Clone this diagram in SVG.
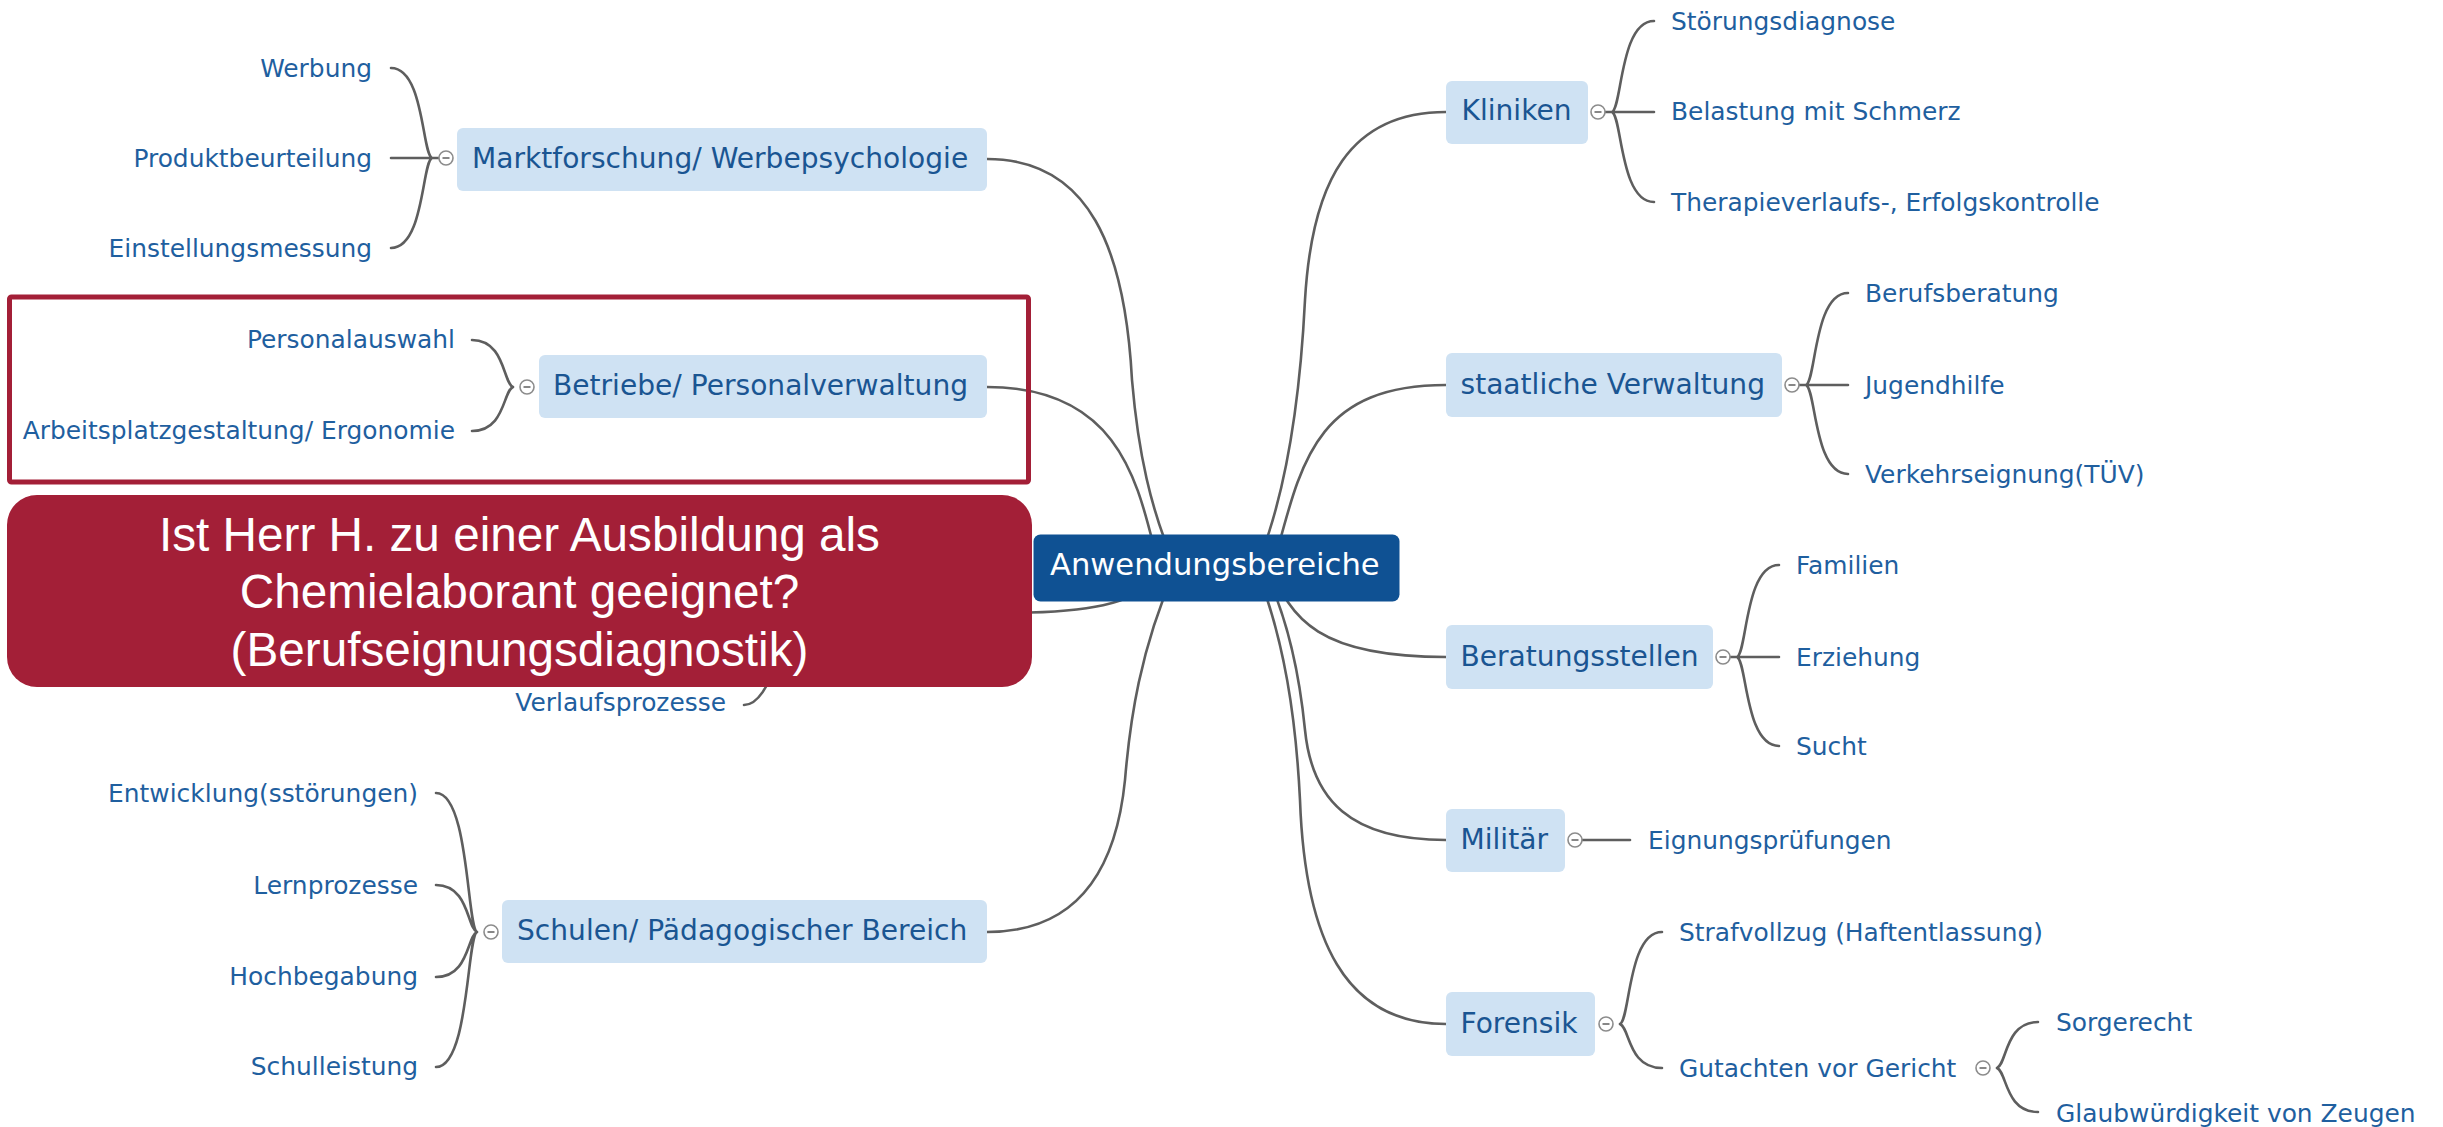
<svg xmlns="http://www.w3.org/2000/svg" width="2443" height="1127" viewBox="0 0 2443 1127">
<style>
.c{fill:none;stroke:#5e5e5e;stroke-width:2.6;stroke-linecap:round}
.box{fill:#cfe2f3}
.bt{font-family:"DejaVu Sans",Verdana,sans-serif;font-size:28.1px;fill:#1a5592}
.ct{font-family:"DejaVu Sans",Verdana,sans-serif;font-size:24.9px;fill:#1f5f9f}
.l{text-anchor:end}
.tog circle{fill:#fff;stroke:#8c8c8c;stroke-width:1.6}
.tog line{stroke:#6a6a6a;stroke-width:1.6}
.ot{font-family:"Liberation Sans",Arial,sans-serif;font-size:47.7px;fill:#fff;text-anchor:middle}
</style>
<defs>
<g id="tg" class="tog"><circle cx="0" cy="0" r="7"/><line x1="-3.5" y1="0" x2="3.5" y2="0"/></g>
</defs>
<rect width="2443" height="1127" fill="#fff"/>
<g id="connectors">
<path class="c" d="M1255 570 C1285 500 1300 400 1305 300 C1312 180 1350 112 1446 112"/>
<path class="c" d="M1272 570 C1300 470 1310 385 1446 385"/>
<path class="c" d="M1270 565 C1290 620 1320 657 1446 657"/>
<path class="c" d="M1262 565 C1290 620 1300 680 1305 730 C1312 800 1350 840 1446 840"/>
<path class="c" d="M1255 565 C1285 640 1296 720 1300 800 C1305 940 1345 1024 1446 1024"/>
<path class="c" d="M1177 570 C1150 510 1138 450 1132 380 C1125 250 1090 159 987 159"/>
<path class="c" d="M1160 570 C1140 500 1130 387 987 387"/>
<path class="c" d="M1165 575 C1130 605 1090 613 1000 613"/>
<path class="c" d="M1175 570 C1140 650 1130 720 1125 780 C1115 880 1070 932 987 932"/>
<path class="c" d="M1605 112 H1654 M1612 112 C1622 108 1620 21 1654 21 M1612 112 C1622 116 1620 202 1654 202"/>
<path class="c" d="M1799 385 H1848 M1806 385 C1816 381 1814 293 1848 293 M1806 385 C1816 389 1814 474 1848 474"/>
<path class="c" d="M1730 657 H1779 M1737 657 C1747 653 1745 565 1779 565 M1737 657 C1747 661 1745 746 1779 746"/>
<path class="c" d="M1582 840 H1630"/>
<path class="c" d="M1620 1024 C1630 1020 1628 932 1662 932 M1620 1024 C1630 1028 1628 1068 1662 1068"/>
<path class="c" d="M1997 1068 C2007 1064 2005 1022 2038 1022 M1997 1068 C2007 1072 2005 1112 2038 1112"/>
<path class="c" d="M439 158 H391 M432 158 C422 154 424 68 391 68 M432 158 C422 162 424 248 391 248"/>
<path class="c" d="M513 387 C503 383 505 340 472 340 M513 387 C503 391 505 431 472 431"/>
<path class="c" d="M477 932 C467 928 469 793 436 793 M477 932 C467 928 469 885 436 885 M477 932 C467 936 469 977 436 977 M477 932 C467 936 469 1067 436 1067"/>
<path class="c" d="M778 612 C790 622 772 705 744 705"/>
</g>
<g id="n-center"><rect x="1033.5" y="534.5" width="366" height="67" rx="7" fill="#0f5193"/><text x="1050" y="574.5" style="font-family:'DejaVu Sans',Verdana,sans-serif;font-size:30.6px;fill:#fff">Anwendungsbereiche</text></g>
<g id="n-markt"><rect class="box" x="457" y="128" width="530" height="63" rx="6"/><text class="bt" x="472" y="167.5">Marktforschung/ Werbepsychologie</text><use href="#tg" x="446" y="158"/></g>
<g id="n-werbung"><text class="ct l" x="372" y="76.5">Werbung</text></g>
<g id="n-produkt"><text class="ct l" x="372" y="166.5">Produktbeurteilung</text></g>
<g id="n-einst"><text class="ct l" x="372" y="257">Einstellungsmessung</text></g>
<g id="n-betriebe"><rect class="box" x="539" y="355" width="448" height="63" rx="6"/><text class="bt" x="553" y="395">Betriebe/ Personalverwaltung</text><use href="#tg" x="527" y="387"/></g>
<g id="n-personal"><text class="ct l" x="455" y="348">Personalauswahl</text></g>
<g id="n-arbeit"><text class="ct l" x="455" y="438.5">Arbeitsplatzgestaltung/ Ergonomie</text></g>
<g id="n-verlauf"><text class="ct l" x="726" y="710.5">Verlaufsprozesse</text></g>
<g id="n-schulen"><rect class="box" x="502" y="900" width="485" height="63" rx="6"/><text class="bt" x="517" y="940">Schulen/ Pädagogischer Bereich</text><use href="#tg" x="491" y="932"/></g>
<g id="n-entw"><text class="ct l" x="418" y="802">Entwicklung(sstörungen)</text></g>
<g id="n-lern"><text class="ct l" x="418" y="893.5">Lernprozesse</text></g>
<g id="n-hoch"><text class="ct l" x="418" y="984.5">Hochbegabung</text></g>
<g id="n-schulleist"><text class="ct l" x="418" y="1075">Schulleistung</text></g>
<g id="n-kliniken"><rect class="box" x="1446" y="81" width="142" height="63" rx="6"/><text class="bt" x="1461.5" y="119.5">Kliniken</text><use href="#tg" x="1598" y="112"/></g>
<g id="n-stoer"><text class="ct" x="1671" y="29.5">Störungsdiagnose</text></g>
<g id="n-belast"><text class="ct" x="1671" y="120">Belastung mit Schmerz</text></g>
<g id="n-therapie"><text class="ct" x="1671" y="210.5">Therapieverlaufs-, Erfolgskontrolle</text></g>
<g id="n-staat"><rect class="box" x="1446" y="353" width="336" height="64" rx="6"/><text class="bt" x="1460.5" y="393.5">staatliche Verwaltung</text><use href="#tg" x="1792" y="385"/></g>
<g id="n-berufsb"><text class="ct" x="1865" y="302">Berufsberatung</text></g>
<g id="n-jugend"><text class="ct" x="1865" y="393.5">Jugendhilfe</text></g>
<g id="n-verkehr"><text class="ct" x="1865" y="483">Verkehrseignung(TÜV)</text></g>
<g id="n-beratung"><rect class="box" x="1446" y="625" width="267" height="64" rx="6"/><text class="bt" x="1460.5" y="666">Beratungsstellen</text><use href="#tg" x="1723" y="657"/></g>
<g id="n-familien"><text class="ct" x="1796" y="574">Familien</text></g>
<g id="n-erziehung"><text class="ct" x="1796" y="666">Erziehung</text></g>
<g id="n-sucht"><text class="ct" x="1796" y="755">Sucht</text></g>
<g id="n-militaer"><rect class="box" x="1446" y="809" width="119" height="63" rx="6"/><text class="bt" x="1460.5" y="849">Militär</text><use href="#tg" x="1575" y="840"/></g>
<g id="n-eignung"><text class="ct" x="1648" y="849">Eignungsprüfungen</text></g>
<g id="n-forensik"><rect class="box" x="1446" y="992" width="149" height="64" rx="6"/><text class="bt" x="1460.5" y="1032.5">Forensik</text><use href="#tg" x="1606" y="1024"/></g>
<g id="n-straf"><text class="ct" x="1679" y="941">Strafvollzug (Haftentlassung)</text></g>
<g id="n-gutachten"><text class="ct" x="1679" y="1077">Gutachten vor Gericht</text><use href="#tg" x="1983" y="1068"/></g>
<g id="n-sorge"><text class="ct" x="2056" y="1031">Sorgerecht</text></g>
<g id="n-glaub"><text class="ct" x="2056" y="1121.5">Glaubwürdigkeit von Zeugen</text></g>
<g id="highlight"><rect x="9.5" y="297" width="1019" height="185" rx="2" fill="none" stroke="#a31f37" stroke-width="5"/></g>
<g id="callout"><rect x="7" y="495" width="1025" height="192" rx="30" fill="#a31f37"/>
<text class="ot" x="519.5" y="550.5">Ist Herr H. zu einer Ausbildung als</text>
<text class="ot" x="519.5" y="608">Chemielaborant geeignet?</text>
<text class="ot" x="519.5" y="665.5">(Berufseignungsdiagnostik)</text></g>
</svg>
